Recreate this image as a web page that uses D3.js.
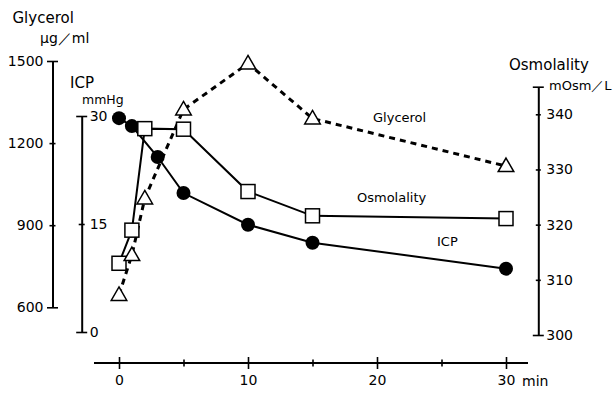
<!DOCTYPE html>
<html>
<head>
<meta charset="utf-8">
<script src="https://cdn.jsdelivr.net/npm/d3@7/dist/d3.min.js"></script>
<style>
  body { margin: 0; background: #fff; }
  text { font-family: "DejaVu Sans", sans-serif; fill: #000; }
</style>
</head>
<body>
<div class="chart"></div>
<script>
// time after injection (min)
var icpTimes = [0, 1, 3, 5, 10, 15, 30];
var icpValues = [29.7, 28.6, 24.3, 19.3, 14.9, 12.4, 8.8];

var osmTimes = [0, 1, 2, 5, 10, 15, 30];
var osmValues = [313.0, 319.0, 337.4, 337.3, 326.0, 321.6, 321.1];

var glyTimes = [0, 1, 2, 5, 10, 15, 30];
var glyValues = [645, 791, 998, 1323, 1491, 1290, 1116];

var timeTicks = [0, 5, 10, 15, 20, 25, 30];
var timeLabels = [0, 10, 20, 30];
var glyTicks = [600, 900, 1200, 1500];
var icpTicks = [0, 15, 30];
var osmTicks = [300, 310, 320, 330, 340, 345];

var svg = d3.select(".chart").append("svg")
    .attr("width", 616)
    .attr("height", 394);

var x = d3.scaleLinear().domain([0, 30]).range([119, 506]);
var yG = d3.scaleLinear().domain([600, 1500]).range([307.3, 61]);
var yI = d3.scaleLinear().domain([0, 30]).range([332, 116]);
var yO = d3.scaleLinear().domain([300, 345]).range([335, 86.7]);

var plain = function(d){ return String(d); };

// crossing ticks: small in the middle, wide caps at the ends
function crossTicks(g, caps, half, capHalf, vertical) {
  g.select(".domain").attr("stroke-width", 2);
  g.selectAll(".tick line")
    .attr("stroke-width", 1.6)
    .each(function(d) {
      var h = caps.indexOf(d) >= 0 ? capHalf : half;
      if (vertical) d3.select(this).attr("x1", -h).attr("x2", h);
      else d3.select(this).attr("y1", -h).attr("y2", h);
    });
  g.selectAll(".tick text").style("font-size", "14px");
}

// Glycerol axis
svg.append("g")
    .attr("transform", "translate(52.5,0)")
    .call(d3.axisLeft(yG).tickValues(glyTicks).tickFormat(plain)
      .tickSize(0).tickSizeOuter(0).tickPadding(9))
    .call(crossTicks, [600, 1500], 3, 5.5, true);

// ICP axis
svg.append("g")
    .attr("transform", "translate(81.7,0)")
    .call(d3.axisRight(yI).tickValues(icpTicks).tickFormat(plain)
      .tickSize(0).tickSizeOuter(0).tickPadding(8))
    .call(crossTicks, [0, 30], 3, 5.5, true);

// Osmolality axis
svg.append("g")
    .attr("transform", "translate(538.3,0)")
    .call(d3.axisRight(yO).tickValues(osmTicks).tickSize(0).tickSizeOuter(0).tickPadding(8)
      .tickFormat(function(d){ return d === 345 ? "" : String(d); }))
    .call(crossTicks, [300, 345], 2.5, 5.5, true);

// time axis
var xg = svg.append("g")
    .attr("transform", "translate(0,363)")
    .call(d3.axisBottom(x).tickValues(timeTicks).tickSize(0).tickSizeOuter(0).tickPadding(12)
      .tickFormat(function(d){ return timeLabels.indexOf(d) >= 0 ? String(d) : ""; }));
xg.select(".domain").attr("d", "M94,0H528");
xg.call(crossTicks, timeLabels, 3.5, 6, false);

// lines
var lineOf = function(times, yScale) {
  return d3.line().x(function(d, i){ return x(times[i]); }).y(function(d){ return yScale(d); });
};

svg.append("path")
    .attr("d", lineOf(glyTimes, yG)(glyValues))
    .attr("fill", "none").attr("stroke", "#000")
    .attr("stroke-width", 3).attr("stroke-dasharray", "6,5");

svg.append("path")
    .attr("d", lineOf(osmTimes, yO)(osmValues))
    .attr("fill", "none").attr("stroke", "#000").attr("stroke-width", 2);

svg.append("path")
    .attr("d", lineOf(icpTimes, yI)(icpValues))
    .attr("fill", "none").attr("stroke", "#000").attr("stroke-width", 2);

// markers
svg.selectAll(".icp").data(icpValues).enter().append("circle")
    .attr("class", "icp")
    .attr("cx", function(d, i){ return x(icpTimes[i]); })
    .attr("cy", function(d){ return yI(d); })
    .attr("r", 7)
    .attr("fill", "#000");

svg.selectAll(".osm").data(osmValues).enter().append("rect")
    .attr("class", "osm")
    .attr("x", function(d, i){ return x(osmTimes[i]) - 7; })
    .attr("y", function(d){ return yO(d) - 7; })
    .attr("width", 14).attr("height", 14)
    .attr("fill", "#fff").attr("stroke", "#000").attr("stroke-width", 1.5);

svg.selectAll(".gly").data(glyValues).enter().append("path")
    .attr("class", "gly")
    .attr("d", d3.symbol().type(d3.symbolTriangle).size(105))
    .attr("transform", function(d, i){ return "translate(" + x(glyTimes[i]) + "," + (yG(d) + 1) + ")"; })
    .attr("fill", "#fff").attr("stroke", "#000").attr("stroke-width", 1.5);

// titles
svg.append("text").attr("x", 12.5).attr("y", 22.5).style("font-size", "15px").text("Glycerol");
svg.append("text").attr("x", 40).attr("y", 43).style("font-size", "14px").text("μg／ml");
svg.append("text").attr("x", 70).attr("y", 88).style("font-size", "15px").text("ICP");
svg.append("text").attr("x", 82).attr("y", 104).style("font-size", "12.5px").text("mmHg");
svg.append("text").attr("x", 509).attr("y", 70).style("font-size", "15px").text("Osmolality");
svg.append("text").attr("x", 549).attr("y", 90).style("font-size", "13px").text("mOsm／L");
svg.append("text").attr("x", 522).attr("y", 386).style("font-size", "14px").text("min");

// series labels
svg.append("text").attr("x", 373).attr("y", 121.5).style("font-size", "13px").text("Glycerol");
svg.append("text").attr("x", 357).attr("y", 201.5).style("font-size", "13px").text("Osmolality");
svg.append("text").attr("x", 437).attr("y", 246).style("font-size", "13px").text("ICP");
</script>
</body>
</html>
